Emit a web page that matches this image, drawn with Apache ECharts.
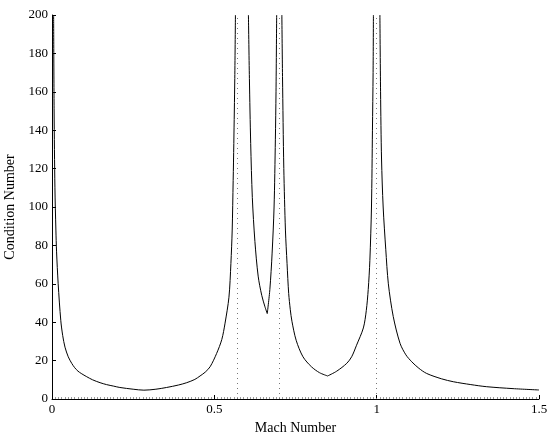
<!DOCTYPE html>
<html>
<head>
<meta charset="utf-8">
<script src="https://cdn.jsdelivr.net/npm/echarts@6/dist/echarts.min.js"></script>
<style>
  html, body { margin: 0; padding: 0; background: #fff; }
  #chart { width: 552px; height: 435px; }
</style>
</head>
<body>
<div id="chart"></div>
<script>
// Condition number versus Mach number. null separates the pieces: the curve breaks at
// each singularity, and each cusp point is repeated so the corner stays sharp.
const machValues = [
  0.005, 0.0065, 0.009, 0.012, 0.014, 0.019, 0.027, 0.033, 0.040, 0.050, 0.061, 0.070, 0.080,
  0.090, 0.107, 0.125, 0.148, 0.168, 0.190,
  0.209, 0.250, 0.283, 0.320, 0.353, 0.390, 0.415, 0.440, 0.456, 0.472, 0.487, 0.507, 0.523, 0.533,
  0.545, 0.551, 0.555, 0.558, 0.560, 0.563, 0.565,
  null,
  0.605, 0.608, 0.612, 0.617, 0.625, 0.635, 0.646, 0.656, 0.663,
  null,
  0.663, 0.671, 0.678, 0.684, 0.688, 0.690, 0.692,
  null,
  0.708, 0.710, 0.714, 0.719, 0.724, 0.729, 0.734, 0.739, 0.752, 0.773, 0.799, 0.824, 0.849,
  null,
  0.849, 0.877, 0.908, 0.923, 0.938, 0.959, 0.968, 0.974, 0.979, 0.984, 0.987, 0.989, 0.990,
  null,
  1.010, 1.012, 1.015, 1.020, 1.028, 1.036, 1.051, 1.072, 1.090, 1.108, 1.130, 1.154, 1.200, 1.236,
  1.290, 1.339, 1.420, 1.500
];
const conditionValues = [
  200, 150, 110, 88, 77, 60, 41, 33, 27, 22, 18.5, 16.3, 14.5,
  13.3, 11.6, 10, 8.5, 7.5, 6.7,
  6.0, 5.1, 4.6, 5.1, 6.0, 7.3, 8.5, 10.2, 12, 14, 16.8, 23.7, 31, 39.5,
  53, 70.5, 88, 113.8, 133, 167, 200,
  null,
  200, 167, 133, 105, 82, 64, 54, 48, 44.5,
  null,
  44.5, 57, 76, 100, 135, 160, 200,
  null,
  200, 168, 120, 88, 70.5, 55, 46.5, 40.5, 30.6, 22, 16.8, 13.7, 12.0,
  null,
  12.0, 14.5, 18.6, 22, 28, 37, 46, 57, 72, 100, 140, 170, 200,
  null,
  200, 160, 125, 100, 78, 60, 43, 29, 23, 19.4, 16, 13.3, 10.5, 9,
  7.5, 6.4, 5.4, 4.7
];
// Mach numbers of the singular points, drawn as dotted guides
const singularMach = [0.574, 0.703, 1.0];
const xTicks = [0, 0.5, 1, 1.5];

const curve = machValues.map((m, i) => (m === null ? '-' : [m, conditionValues[i]]));

const serif = 'Liberation Serif, Times New Roman, serif';
const chart = echarts.init(document.getElementById('chart'), null, { renderer: 'canvas' });
chart.setOption({
  animation: false,
  backgroundColor: '#fff',
  grid: { left: 52, right: 13, top: 15, bottom: 36, containLabel: false, outerBoundsMode: 'none' },
  xAxis: {
    type: 'value',
    min: xTicks[0],
    max: xTicks[xTicks.length - 1],
    interval: 0.5,
    name: 'Mach Number',
    nameLocation: 'middle',
    nameGap: 18,
    nameTextStyle: { fontFamily: serif, fontSize: 14, color: '#000' },
    axisLine: { lineStyle: { color: '#000', width: 1 } },
    axisTick: { inside: true, length: 4, lineStyle: { color: '#000' } },
    minorTick: { show: true, splitNumber: 50, length: 2, lineStyle: { color: '#999' } },
    axisLabel: {
      fontFamily: serif, fontSize: 13, color: '#000', margin: 4,
      formatter: v => String(v)
    },
    splitLine: { show: false }
  },
  yAxis: {
    type: 'value',
    min: 0,
    max: 200,
    interval: 20,
    name: 'Condition Number',
    nameLocation: 'middle',
    nameGap: 24,
    nameTextStyle: { fontFamily: serif, fontSize: 14, color: '#000' },
    axisLine: { show: true, lineStyle: { color: '#000', width: 1 } },
    axisTick: { show: true, inside: true, length: 4, lineStyle: { color: '#000' } },
    axisLabel: { fontFamily: serif, fontSize: 13, color: '#000', margin: 4 },
    splitLine: { show: false }
  },
  series: [{
    type: 'line',
    data: curve,
    showSymbol: false,
    connectNulls: false,
    smooth: 0.3,
    lineStyle: { color: '#000', width: 1 },
    silent: true,
    markLine: {
      silent: true,
      symbol: 'none',
      label: { show: false },
      lineStyle: { color: '#777', type: [1, 4], width: 1 },
      data: singularMach.map(m => ({ xAxis: m }))
    }
  }]
});
</script>
</body>
</html>
